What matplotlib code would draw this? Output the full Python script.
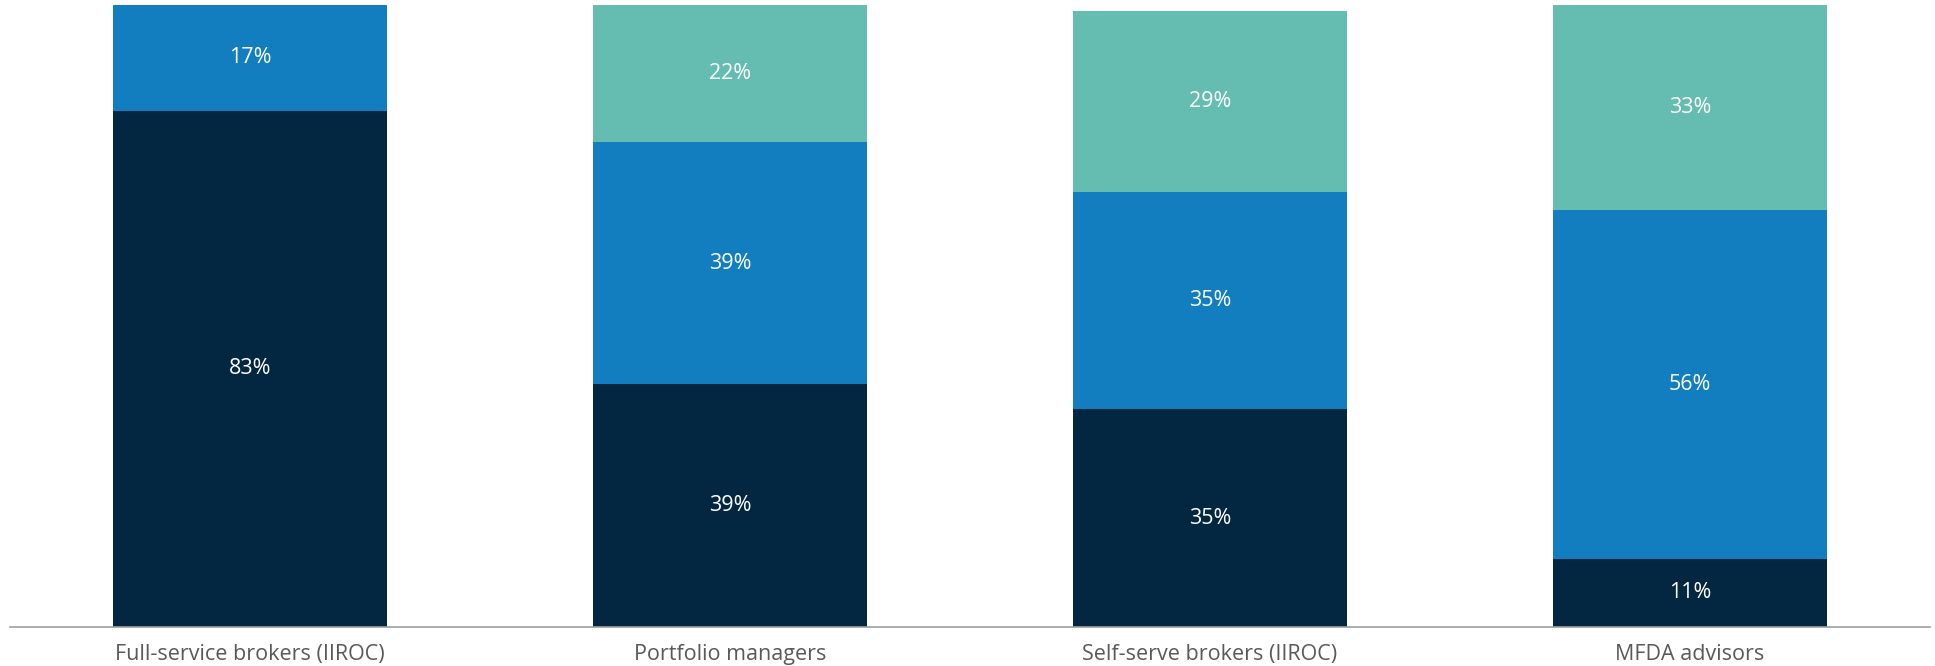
import numpy as np
import matplotlib.pyplot as plt

plt.rcParams['font.family'] = ['Open Sans', 'DejaVu Sans']

categories = ["Full-service brokers (IIROC)", "Portfolio managers",
              "Self-serve brokers (IIROC)", "MFDA advisors"]
bottom_vals = [83, 39, 35, 11]
middle_vals = [17, 39, 35, 56]
top_vals = [0, 22, 29, 33]

colors = ['#032741', '#127dbf', '#65bcb1']

fig = plt.figure(figsize=(19.35, 6.66), dpi=100)
ax = fig.add_axes([10 / 1935, 1 - 627 / 666, 1920 / 1935, 622 / 666])

x = np.arange(len(categories))
width = 0.57
base = np.zeros(len(categories))
for vals, c in zip([bottom_vals, middle_vals, top_vals], colors):
    vals = np.array(vals, dtype=float)
    ax.bar(x, vals, width, bottom=base, color=c, edgecolor='none')
    for xi, b, v in zip(x, base, vals):
        if v > 0:
            ax.text(xi, b + v / 2, f"{v:.0f}%", ha='center', va='center',
                    color='white', fontsize=15.5)
    base += vals

ax.set_xlim(-0.5, 3.5)
ax.set_ylim(0, 100)
ax.set_xticks(x)
ax.set_xticklabels(categories, fontsize=15.5, color='#595959')
ax.tick_params(axis='x', length=0, pad=12)
ax.set_yticks([])
for s in ['top', 'right', 'left']:
    ax.spines[s].set_visible(False)
ax.spines['bottom'].set_color('#a0a0a0')
ax.spines['bottom'].set_linewidth(1.2)

fig.savefig('out.png', dpi=100)
